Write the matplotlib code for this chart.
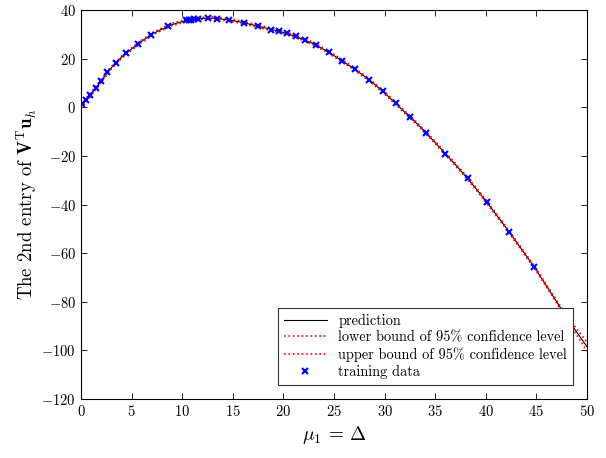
import numpy as np
import matplotlib
matplotlib.use("Agg")
import matplotlib.pyplot as plt

plt.rcParams['font.family'] = 'serif'
plt.rcParams['font.serif'] = ['cmr10']
plt.rcParams['mathtext.fontset'] = 'cm'
plt.rcParams['axes.formatter.use_mathtext'] = True

# prediction curve
x_curve = list(range(0, 51))
y_pred = [0.5, 5.5, 10.9, 16.3, 20.6, 24.1, 27.2, 30.1, 32.2, 34.1,
          35.3, 36.2, 36.6, 36.7, 36.3, 35.7, 34.9, 33.9, 32.9, 31.9,
          30.8, 29.5, 27.9, 26.1, 23.8, 21.3, 18.6, 15.8, 12.8, 9.5,
          5.9, 2.0, -2.0, -5.9, -10.1, -14.5, -19.0, -23.6, -28.3, -33.3,
          -38.5, -44.0, -49.5, -55.3, -61.1, -67.0, -73.5, -80.0, -86.6, -92.6,
          -98.5]
# half-width of 95% band
band = [0.9, 0.7, 0.6, 0.5, 0.5, 0.5, 0.5, 0.5, 0.5, 0.5,
        0.5, 0.5, 0.5, 0.5, 0.5, 0.5, 0.5, 0.5, 0.5, 0.5,
        0.5, 0.5, 0.5, 0.5, 0.5, 0.5, 0.5, 0.5, 0.5, 0.5,
        0.5, 0.5, 0.5, 0.5, 0.5, 0.5, 0.5, 0.5, 0.5, 0.5,
        0.5, 0.5, 0.5, 0.5, 0.5, 0.5, 0.5, 0.6, 0.9, 1.3,
        1.85]

x_train = [0.13, 0.5, 0.9, 1.45, 2.0, 2.6, 3.46, 4.4, 5.6, 6.9, 8.6,
           10.4, 10.7, 10.9, 11.2, 11.6, 12.5, 13.4, 14.6, 16.1, 17.5,
           18.8, 19.6, 20.4, 21.2, 22.1, 23.2, 24.5, 25.8, 27.1, 28.5,
           29.8, 31.1, 32.5, 34.1, 36.0, 38.2, 40.1, 42.3, 44.8, 47.6]
y_train = [1.2, 3.0, 5.0, 7.8, 10.9, 14.6, 18.3, 22.2, 26.0, 29.8, 33.4,
           35.8, 36.0, 36.1, 36.3, 36.4, 36.8, 36.4, 36.0, 34.8, 33.4,
           31.9, 31.5, 30.4, 29.2, 27.7, 25.6, 22.6, 19.1, 15.6, 11.2,
           6.6, 1.6, -3.9, -10.5, -19.0, -29.2, -39.0, -51.2, -65.8, -84.1]

xc = np.array(x_curve, dtype=float)
yp = np.array(y_pred)
bd = np.array(band)

fig = plt.figure(figsize=(6.06, 4.58), dpi=100)
ax = fig.add_axes([0.1337, 0.1288, 0.835, 0.849])

ax.plot(xc, yp, color='black', lw=0.8, label='prediction')
ax.plot(xc, yp - bd, color='red', lw=1.2, ls=':', label='lower bound of 95% confidence level')
ax.plot(xc, yp + bd, color='red', lw=1.2, ls=':', label='upper bound of 95% confidence level')
ax.plot(x_train, y_train, ls='none', marker='x', color='blue', ms=5, mew=1.5,
        label='training data')

ax.set_xlim(0, 50)
ax.set_ylim(-120, 40)
ax.set_xticks(np.arange(0, 51, 5))
ax.set_yticks(np.arange(-120, 41, 20))
ax.tick_params(direction='in', top=True, right=True, length=4, labelsize=10.5, width=0.6)
for s in ax.spines.values():
    s.set_linewidth(0.8)

ax.set_xlabel(r'$\mu_1\,=\,\Delta$', fontsize=14, labelpad=4)
ax.set_ylabel(r'The 2nd entry of $\mathbf{V}^\mathrm{T}\mathbf{u}_h$', fontsize=13.5, labelpad=2)

leg = ax.legend(loc='lower right', fontsize=10.3, fancybox=False, edgecolor='#333333',
                framealpha=1, borderaxespad=1.0, handlelength=3.0, labelspacing=0.2,
                borderpad=0.4)
leg.get_frame().set_linewidth(0.8)

fig.savefig('out.png', dpi=100)
